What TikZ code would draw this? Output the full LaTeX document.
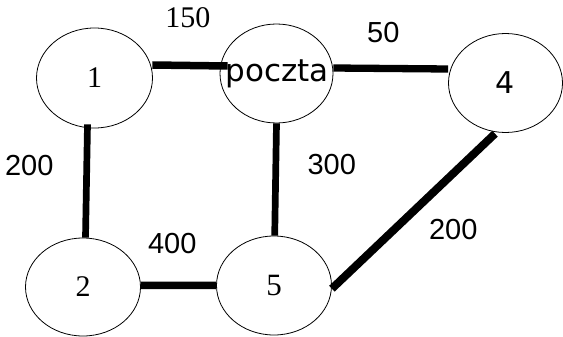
\documentclass[tikz,border=0pt]{standalone}
\usepackage{fontspec}
\setmainfont{Liberation Serif}
\newfontfamily\numsans{Liberation Sans}
\newfontfamily\dvsans{DejaVu Sans}
\usetikzlibrary{shapes.geometric}
\begin{document}
\begin{tikzpicture}[x=1pt,y=-1pt,
  vertex/.style={draw, ellipse, line width=0.8pt, inner sep=0pt},
  edge/.style={line width=7pt, line cap=butt},
  serifnum/.style={inner sep=0pt, font=\fontsize{30}{32}\selectfont},
  sansnum/.style={inner sep=0pt, font=\numsans\fontsize{29}{31}\selectfont}]
\useasboundingbox[fill=white] (0,0) rectangle (563,337);
% vertices
\node[vertex, minimum width=116pt, minimum height=100pt, font=\fontsize{30}{32}\selectfont] (n1) at (94.5,78) {\raisebox{-1.5pt}{1}};
\node[vertex, minimum width=113pt, minimum height=99pt, font=\dvsans\fontsize{31}{33}\selectfont] (pc) at (276.5,73.5) {\makebox[0pt]{\hspace{1pt}\raisebox{-1.5pt}{poczta}}};
\node[vertex, minimum width=114pt, minimum height=99pt, font=\dvsans\fontsize{30}{32}\selectfont] (n4) at (505.5,83) {4};
\node[vertex, minimum width=115pt, minimum height=98pt, font=\fontsize{30}{32}\selectfont] (n2) at (83,287) {2};
\node[vertex, minimum width=115pt, minimum height=99pt, font=\fontsize{31}{33}\selectfont] (n5) at (274,285.5) {5};
% edges
\draw[edge, line width=7.5pt] ([xshift=-0.5pt,yshift=13pt]n1.east) -- ([xshift=8pt,yshift=7.5pt]pc.west);
\draw[edge, line width=7.3pt] ([yshift=5.5pt]pc.east) -- ([yshift=14pt]n4.west);
\draw[edge, line width=6.7pt] ([xshift=-7pt,yshift=4pt]n1.south) -- ([xshift=2.5pt]n2.north);
\draw[edge, line width=7.5pt] ([yshift=1.7pt]n2.east) -- (n5.west);
\draw[edge, line width=6.7pt] (pc.south) -- ([xshift=0.7pt]n5.north);
\draw[edge, line width=8pt] ([yshift=-3.2pt]n5.east) -- ([xshift=-10.5pt,yshift=-0.8pt]n4.south);
% labels
\node[serifnum] (l150) at (187.8,17.8) {150};
\node[sansnum] (l50) at (383.3,33) {50};
\node[sansnum] (l200a) at (29.3,165.8) {200};
\node[sansnum] (l300) at (331.7,165) {300};
\node[sansnum] (l400) at (172.2,243.7) {400};
\node[sansnum] (l200b) at (453.3,229.5) {200};
\end{tikzpicture}
\end{document}
